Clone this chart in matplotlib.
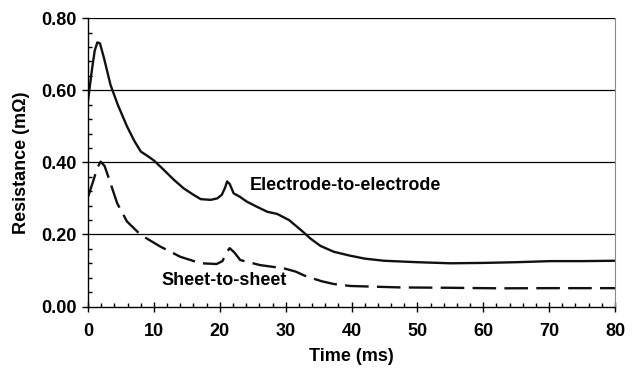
import numpy as np
import matplotlib.pyplot as plt
from matplotlib.ticker import MultipleLocator

plt.rcParams['font.family'] = ['Liberation Sans', 'DejaVu Sans']
plt.rcParams['font.weight'] = 'bold'

# electrode-to-electrode resistance (mOhm) vs time (ms)
t_elec = [0, 0.6, 1.0, 1.4, 1.8, 2.4, 3.4, 4.5, 5.9, 7.0, 8.0, 9.0, 10.0, 11.5,
          13.0, 14.5, 16.0, 17.1, 18.6, 19.6, 20.3, 20.8, 21.1, 21.5, 22.1, 23.0,
          24.1, 25.5, 27.2, 28.7, 30.5, 32.3, 33.8, 35.3, 37.3, 39.8, 42.0,
          44.9, 50.0, 55.0, 60.0, 65.0, 70.2, 75.0, 80.0]
r_elec = [0.574, 0.66, 0.71, 0.733, 0.73, 0.69, 0.615, 0.56, 0.50, 0.46, 0.43,
          0.418, 0.405, 0.379, 0.352, 0.328, 0.31, 0.298, 0.296, 0.30, 0.31,
          0.33, 0.347, 0.34, 0.314, 0.305, 0.291, 0.278, 0.263, 0.257, 0.24,
          0.2125, 0.188, 0.168, 0.152, 0.141, 0.133, 0.127, 0.123, 0.12, 0.121,
          0.123, 0.126, 0.126, 0.127]

# sheet-to-sheet resistance (mOhm) vs time (ms)
t_sheet = [0, 0.8, 1.4, 1.9, 2.5, 3.4, 4.4, 5.9, 7.97, 11.0, 14.0, 17.1, 19.5,
           20.4, 21.0, 21.5, 22.2, 23.1, 26.1, 29.7, 31.5, 33.2, 35.5, 37.3,
           39.8, 47.4, 55.0, 62.6, 70.0, 80.0]
r_sheet = [0.305, 0.35, 0.385, 0.402, 0.39, 0.342, 0.287, 0.236, 0.199, 0.166,
           0.138, 0.12, 0.118, 0.126, 0.15, 0.162, 0.15, 0.129, 0.115, 0.106,
           0.097, 0.083, 0.07, 0.0625, 0.057, 0.053, 0.052, 0.0505, 0.051, 0.051]

fig = plt.figure(figsize=(6.34, 3.72), dpi=100)
ax = fig.add_axes([0.139, 0.176, 0.831, 0.775])

ax.plot(t_elec, r_elec, color='#111111', lw=1.7)
ax.plot(t_sheet, r_sheet, color='#111111', lw=1.7, ls=(0, (10, 3.5)))

ax.set_xlim(0, 80)
ax.set_ylim(0, 0.8)
ax.set_yticks([0.0, 0.2, 0.4, 0.6, 0.8])
ax.set_xticks(range(0, 81, 10))
ax.yaxis.set_minor_locator(MultipleLocator(0.04))
ax.xaxis.set_minor_locator(MultipleLocator(2))
ax.set_yticklabels(['%.2f' % v for v in [0.0, 0.2, 0.4, 0.6, 0.8]])
for v in [0.2, 0.4, 0.6, 0.8]:
    ax.axhline(v, color='black', lw=0.9, zorder=0)

ax.spines['top'].set_visible(False)
ax.spines['right'].set_color('#888888')
ax.spines['right'].set_linewidth(0.8)
ax.spines['left'].set_linewidth(1.0)
ax.spines['bottom'].set_linewidth(1.0)

ax.tick_params(axis='y', which='major', direction='out', length=4, width=1,
               labelsize=13, pad=4)
ax.tick_params(axis='y', which='minor', direction='in', length=3, width=1)
ax.tick_params(axis='x', which='major', direction='inout', length=7, width=1,
               labelsize=13, pad=8)
ax.tick_params(axis='x', which='minor', direction='in', length=3, width=1)

ax.set_xlabel('Time (ms)', fontsize=13, fontweight='bold', labelpad=6)
ax.set_ylabel('Resistance (m\u03a9)', fontsize=13, fontweight='bold', labelpad=8)

ax.text(24.5, 0.335, 'Electrode-to-electrode', fontsize=13, fontweight='bold',
        ha='left', va='center')
ax.text(11.2, 0.072, 'Sheet-to-sheet', fontsize=13, fontweight='bold',
        ha='left', va='center')

fig.savefig('out.png', dpi=100)
